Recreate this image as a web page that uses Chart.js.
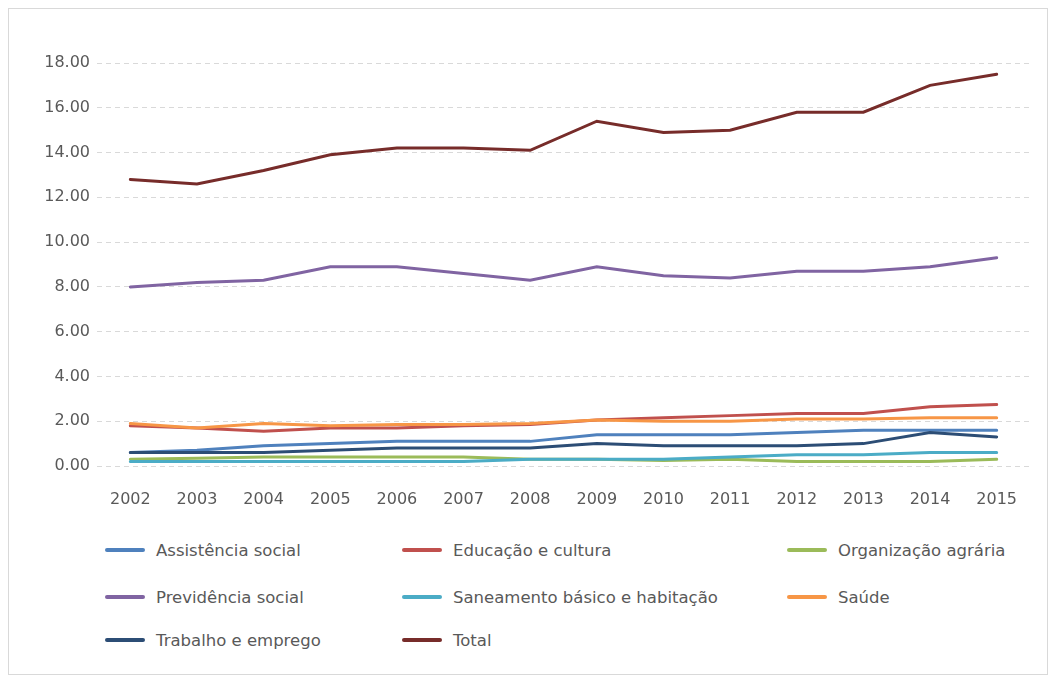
<!DOCTYPE html>
<html>
<head>
<meta charset="utf-8">
<script src="https://cdn.jsdelivr.net/npm/chart.js@4/dist/chart.umd.min.js"></script>
<style>
  body { margin: 0; background: #fff; font-family: "DejaVu Sans", sans-serif; }
  #frame { position: absolute; left: 8px; top: 8px; width: 1038px; height: 665px; border: 1px solid #d9d9d9; }
  #wrap { position: absolute; left: 0; top: 0; width: 1053px; height: 520px; }
  #legend { position: absolute; left: 0; top: 0; width: 1053px; }
  .item { position: absolute; display: flex; align-items: center; font-size: 16.5px; color: #595959; white-space: nowrap; height: 20px; }
  .swatch { width: 40px; height: 4px; border-radius: 2px; margin-right: 11px; }
</style>
</head>
<body>
<div id="frame"></div>
<div id="wrap"><canvas id="chart"></canvas></div>
<div id="legend"></div>
<script>
const years = ["2002","2003","2004","2005","2006","2007","2008","2009","2010","2011","2012","2013","2014","2015"];

const assistencia = [0.6, 0.7, 0.9, 1.0, 1.1, 1.1, 1.1, 1.4, 1.4, 1.4, 1.5, 1.6, 1.6, 1.6];
const educacao    = [1.8, 1.7, 1.55, 1.7, 1.7, 1.8, 1.85, 2.05, 2.15, 2.25, 2.35, 2.35, 2.65, 2.75];
const organizacao = [0.3, 0.35, 0.4, 0.4, 0.4, 0.4, 0.3, 0.3, 0.25, 0.3, 0.2, 0.2, 0.2, 0.3];
const previdencia = [8.0, 8.2, 8.3, 8.9, 8.9, 8.6, 8.3, 8.9, 8.5, 8.4, 8.7, 8.7, 8.9, 9.3];
const saneamento  = [0.2, 0.2, 0.2, 0.2, 0.2, 0.2, 0.3, 0.3, 0.3, 0.4, 0.5, 0.5, 0.6, 0.6];
const saude       = [1.9, 1.7, 1.9, 1.8, 1.85, 1.85, 1.9, 2.05, 2.0, 2.0, 2.1, 2.1, 2.15, 2.15];
const trabalho    = [0.6, 0.6, 0.6, 0.7, 0.8, 0.8, 0.8, 1.0, 0.9, 0.9, 0.9, 1.0, 1.5, 1.3];
const total       = [12.8, 12.6, 13.2, 13.9, 14.2, 14.2, 14.1, 15.4, 14.9, 15.0, 15.8, 15.8, 17.0, 17.5];

const yTicks = [0, 2, 4, 6, 8, 10, 12, 14, 16, 18];

const series = [
  { label: "Assistência social", data: assistencia, color: "#4f81bd" },
  { label: "Educação e cultura", data: educacao, color: "#c0504d" },
  { label: "Organização agrária", data: organizacao, color: "#9bbb59" },
  { label: "Previdência social", data: previdencia, color: "#8064a2" },
  { label: "Saneamento básico e habitação", data: saneamento, color: "#4bacc6" },
  { label: "Saúde", data: saude, color: "#f79646" },
  { label: "Trabalho e emprego", data: trabalho, color: "#2c4d75" },
  { label: "Total", data: total, color: "#772c2a" }
];

const textColor = "#595959";
Chart.defaults.font.family = "'DejaVu Sans', sans-serif";

const ctx = document.getElementById("chart").getContext("2d");
const chart = new Chart(ctx, {
  type: "line",
  data: {
    labels: years,
    datasets: series.map((s, i) => ({
      label: s.label,
      data: s.data,
      borderColor: s.color,
      backgroundColor: s.color,
      borderWidth: 3,
      pointRadius: 0,
      tension: 0,
      fill: false,
      borderCapStyle: "round",
      order: series.length - i
    }))
  },
  options: {
    responsive: true,
    maintainAspectRatio: false,
    animation: false,
    layout: { padding: { left: 0, right: 23, top: 63, bottom: 14 } },
    plugins: { legend: { display: false }, tooltip: { enabled: false } },
    scales: {
      x: {
        offset: true,
        grid: { display: false },
        border: { display: false },
        ticks: { color: textColor, font: { size: 16 }, padding: 16, maxRotation: 0 },
        afterFit: (scale) => { scale.height = 40; }
      },
      y: {
        min: 0,
        max: 18,
        afterBuildTicks: (scale) => { scale.ticks = yTicks.map(v => ({ value: v })); },
        grid: { color: "#d9d9d9", lineWidth: 1, drawTicks: false },
        border: { display: false, dash: [5, 4] },
        ticks: { color: textColor, font: { size: 16 }, padding: 7, callback: (v) => Number(v).toFixed(2) },
        afterFit: (scale) => { scale.width = 97; }
      }
    }
  }
});

// legend in a 3-column grid like the original
const legendPos = [
  [105, 540], [402, 540], [787, 540],
  [105, 587], [402, 587], [787, 587],
  [105, 630], [402, 630]
];
const legend = document.getElementById("legend");
series.forEach((s, i) => {
  const item = document.createElement("div");
  item.className = "item";
  item.style.left = legendPos[i][0] + "px";
  item.style.top = legendPos[i][1] + "px";
  const sw = document.createElement("span");
  sw.className = "swatch";
  sw.style.background = s.color;
  const txt = document.createElement("span");
  txt.textContent = s.label;
  item.appendChild(sw);
  item.appendChild(txt);
  legend.appendChild(item);
});
</script>
</body>
</html>
